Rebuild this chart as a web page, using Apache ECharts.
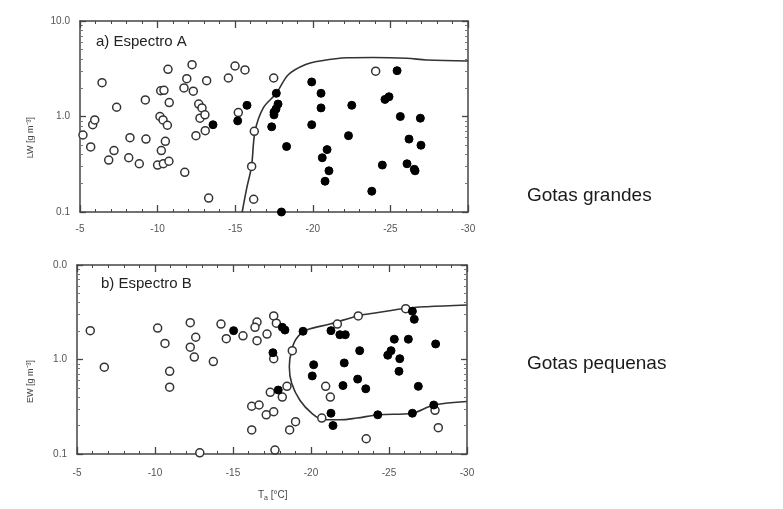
<!DOCTYPE html>
<html><head><meta charset="utf-8">
<script src="https://cdn.jsdelivr.net/npm/echarts@6/dist/echarts.min.js"></script>
<style>html,body{margin:0;padding:0;background:#fff}#c{width:783px;height:509px}</style>
</head><body><div id="c"></div>
<script>
// ---- data (temperature °C, water content g m^-3) ----
const xTicks = [-5, -10, -15, -20, -25, -30];
const topYLabels = {"0.1": "0.1", "1": "1.0", "10": "10.0"};
const botYLabels = {"0.1": "0.1", "1": "1.0", "10": "0.0"};

const topOpenT = [-5.19,-5.82,-5.95,-6.42,-5.69,-7.36,-7.19,-6.85,-9.21,-8.22,-9.25,-8.14,-8.82,-10.67,-10.2,-10.41,-10.75,-10.15,-10.35,-10.63,-10.5,-10.24,-10.0,-10.37,-10.73,-11.75,-12.22,-11.88,-11.70,-12.3,-13.16,-12.65,-12.86,-12.73,-13.05,-13.07,-12.47,-13.29,-14.56,-14.99,-15.63,-15.2,-16.23,-16.06,-16.19,-17.48,-24.05];
const topOpenV = [0.64,0.82,0.92,2.26,0.48,1.25,0.44,0.35,1.49,0.60,0.58,0.37,0.32,3.12,1.86,1.88,1.40,1.0,0.92,0.81,0.55,0.44,0.31,0.32,0.34,0.26,3.49,2.49,1.99,1.84,2.37,1.35,1.23,0.96,1.04,0.71,0.63,0.14,2.53,3.38,3.07,1.10,0.70,0.30,0.136,2.53,2.98];

const topFilledT = [-13.57,-15.16,-15.76,-17.65,-17.76,-17.63,-17.5,-17.5,-17.35,-18.31,-17.98,-19.93,-20.53,-20.53,-19.93,-20.92,-20.61,-21.04,-20.79,-22.51,-22.3,-24.65,-24.91,-25.43,-25.64,-26.93,-26.2,-26.97,-24.48,-26.07,-26.54,-26.59,-23.8];
const topFilledV = [0.82,0.90,1.31,1.75,1.35,1.20,1.11,1.04,0.78,0.485,0.1,2.30,1.75,1.23,0.82,0.45,0.37,0.27,0.21,1.31,0.63,1.51,1.61,3.02,1.0,0.96,0.58,0.50,0.31,0.32,0.28,0.27,0.165];

const topCurveT = [-15.45,-15.75,-16.05,-16.28,-16.81,-17.65,-18.42,-19.5,-20.57,-22.19,-23.88,-26.05,-27.34,-30];
const topCurveV = [0.1,0.18,0.30,0.70,1.23,1.75,2.74,3.49,3.84,4.12,4.15,4.07,3.91,3.81];

const botOpenT = [-5.85,-6.75,-10.17,-10.64,-10.94,-10.94,-12.26,-12.61,-12.26,-12.52,-12.87,-13.74,-14.23,-14.57,-15.64,-16.54,-16.41,-16.54,-17.18,-17.61,-17.78,-17.61,-18.8,-18.46,-17.39,-18.16,-16.2,-16.67,-17.13,-17.61,-16.2,-19.01,-18.63,-17.69,-20.69,-20.94,-21.24,-21.69,-23.03,-26.07,-27.95,-28.16,-23.54];
const botOpenV = [2.02,0.83,2.15,1.48,0.75,0.51,2.45,1.72,1.35,1.06,0.103,0.95,2.37,1.66,1.78,2.49,2.19,1.58,1.86,2.89,2.42,1.02,1.24,0.52,0.45,0.40,0.32,0.33,0.26,0.28,0.18,0.22,0.18,0.11,0.24,0.52,0.40,2.37,2.89,3.45,0.29,0.19,0.145];

const botFilledT = [-15.04,-18.16,-18.33,-19.49,-17.56,-17.9,-20.17,-20.08,-21.28,-21.41,-21.28,-21.85,-22.2,-23.12,-22.13,-22.99,-22.05,-23.51,-24.28,-25.34,-26.24,-25.13,-24.92,-25.69,-25.64,-26.88,-27.99,-26.5,-26.62,-26.5,-27.87];
const botFilledV = [2.02,2.19,2.05,1.99,1.18,0.475,0.88,0.67,0.27,0.20,2.02,1.83,1.83,1.24,0.92,0.62,0.53,0.49,0.26,1.64,1.64,1.24,1.11,1.02,0.75,0.52,1.46,3.24,2.66,0.27,0.33];

const botCurveT = [-29.98,-27.42,-26.09,-24.0,-23.03,-21.22,-19.72,-19.08,-18.76,-18.61,-18.76,-19.29,-20.04,-20.79,-21.86,-22.93,-24.33,-26.47,-27.88,-29.98];
const botCurveV = [3.78,3.62,3.48,3.08,2.91,2.37,2.05,1.68,1.26,0.84,0.56,0.37,0.27,0.23,0.23,0.24,0.26,0.27,0.33,0.36];

// ---- build ----
const zip = (a, b) => a.map((v, i) => [v, b[i]]);
const axisCol = '#444';
const lblCol = '#555';
const font = 'Liberation Sans, Arial, sans-serif';

function xAxes(gi, margin) {
  const base = {
    type: 'value', gridIndex: gi, inverse: true, min: -30, max: -5, interval: 5,
    axisLine: {show: true, onZero: false, lineStyle: {color: axisCol, width: 1.5}},
    axisTick: {show: true, inside: true, length: 7, lineStyle: {color: axisCol, width: 1.3}},
    minorTick: {show: true, splitNumber: 5, length: 3, lineStyle: {color: axisCol}},
    splitLine: {show: false}
  };
  return [
    Object.assign({}, base, {position: 'bottom',
      axisLabel: {show: true, margin: margin, color: lblCol, fontSize: 10, fontFamily: font,
        formatter: v => xTicks.includes(v) ? String(v) : ''}}),
    Object.assign({}, base, {position: 'top', axisLabel: {show: false}})
  ];
}
function yAxes(gi, labels) {
  const base = {
    type: 'log', logBase: 10, gridIndex: gi, min: 0.1, max: 10,
    axisLine: {show: true, onZero: false, lineStyle: {color: axisCol, width: 1.5}},
    axisTick: {show: true, inside: true, length: 6, lineStyle: {color: axisCol, width: 1.3}},
    minorTick: {show: true, splitNumber: 9, length: 3, lineStyle: {color: '#777'}},
    splitLine: {show: false}
  };
  return [
    Object.assign({}, base, {position: 'left',
      axisLabel: {show: true, margin: 10, color: lblCol, fontSize: 10, fontFamily: font,
        formatter: v => { const k = String(Math.round(v * 10) / 10); return labels[k] !== undefined ? labels[k] : ''; }}}),
    Object.assign({}, base, {position: 'right', axisLabel: {show: false}})
  ];
}

const openStyle = {color: '#fff', borderColor: '#333', borderWidth: 1.5, opacity: 1};
const fillStyle = {color: '#000', borderColor: '#000', borderWidth: 1, opacity: 1};

function scat(xi, yi, data, style) {
  return {type: 'scatter', xAxisIndex: xi, yAxisIndex: yi, data, symbol: 'circle', symbolSize: 8,
    itemStyle: style, clip: false, silent: true, z: 3};
}
function curve(xi, yi, data) {
  return {type: 'line', xAxisIndex: xi, yAxisIndex: yi, data, smooth: 0.35, showSymbol: false,
    lineStyle: {color: '#333', width: 1.6}, clip: true, silent: true, z: 2};
}

const chart = echarts.init(document.getElementById('c'), null, {renderer: 'canvas'});
chart.setOption({
  animation: false,
  backgroundColor: '#fff',
  grid: [
    {left: 80, right: 315, top: 21, bottom: 297},
    {left: 77, right: 316, top: 265, bottom: 55}
  ],
  xAxis: [...xAxes(0, 12), ...xAxes(1, 14)],
  yAxis: [...yAxes(0, topYLabels), ...yAxes(1, botYLabels)],
  series: [
    curve(0, 0, zip(topCurveT, topCurveV)),
    scat(0, 0, zip(topOpenT, topOpenV), openStyle),
    scat(0, 0, zip(topFilledT, topFilledV), fillStyle),
    curve(2, 2, zip(botCurveT, botCurveV)),
    scat(2, 2, zip(botOpenT, botOpenV), openStyle),
    scat(2, 2, zip(botFilledT, botFilledV), fillStyle)
  ],
  graphic: [
    {type: 'text', left: 96, top: 34, style: {text: 'a) Espectro A', font: '15px ' + font, fill: '#222'}},
    {type: 'text', left: 101, top: 276, style: {text: 'b) Espectro B', font: '15px ' + font, fill: '#222'}},
    {type: 'text', left: 26, top: 117, rotation: Math.PI / 2, style: {text: 'LW [g m⁻³]', font: '9px ' + font, fill: '#444', align: 'center', verticalAlign: 'middle'}},
    {type: 'text', left: 26, top: 360, rotation: Math.PI / 2, style: {text: 'EW [g m⁻³]', font: '9px ' + font, fill: '#444', align: 'center', verticalAlign: 'middle'}},
    {type: 'text', left: 258, top: 490, style: {rich: {a: {font: '10px ' + font, fill: '#444'}, s: {font: '7px ' + font, fill: '#444', verticalAlign: 'bottom', padding: [6, 0, 0, 0]}}, text: '{a|T}{s|a}{a| [°C]}'}},
    {type: 'text', left: 527, top: 186, style: {text: 'Gotas grandes', font: '19px ' + font, fill: '#1a1a1a'}},
    {type: 'text', left: 527, top: 354, style: {text: 'Gotas pequenas', font: '19px ' + font, fill: '#1a1a1a'}}
  ]
});
</script></body></html>
